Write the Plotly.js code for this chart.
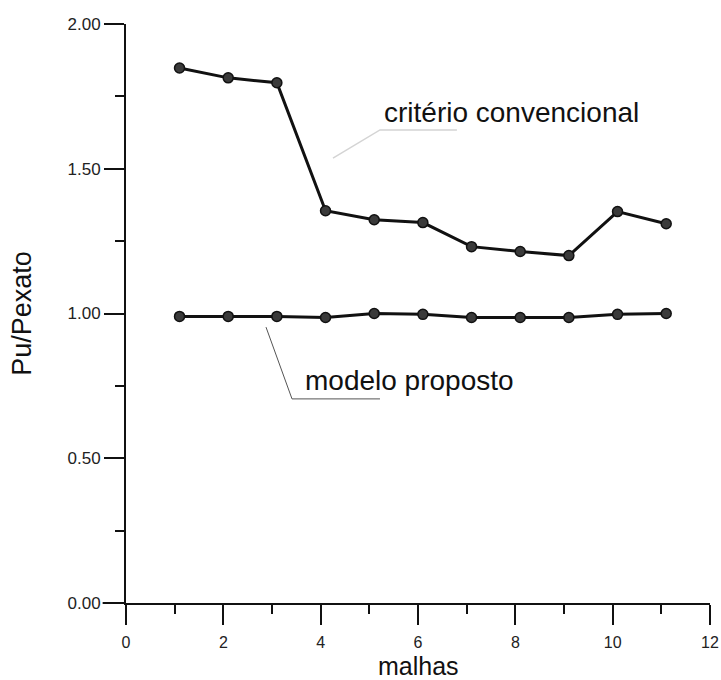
<!DOCTYPE html>
<html>
<head>
<meta charset="utf-8">
<script src="https://cdn.plot.ly/plotly-3.0.1.min.js"></script>
<style>html,body{margin:0;padding:0;background:#fff;}#chart{width:721px;height:680px;}</style>
</head>
<body>
<div id="chart"></div>
<script>
var malhas = [1.1, 2.1, 3.1, 4.1, 5.1, 6.1, 7.1, 8.1, 9.1, 10.1, 11.1];
var criterioConvencional = [1.848, 1.814, 1.797, 1.355, 1.324, 1.314, 1.231, 1.214, 1.200, 1.352, 1.310];
var modeloProposto = [0.990, 0.990, 0.990, 0.986, 1.000, 0.997, 0.986, 0.986, 0.986, 0.997, 1.000];
var labelCriterio = "critério convencional";
var labelModelo = "modelo proposto";
var xTitle = "malhas";
var yTitle = "Pu/Pexato";

var fontFam = "Arial, 'Liberation Sans', sans-serif";
var markerStyle = {symbol: 'circle', size: 10, color: '#3a3a3a', line: {color: '#111', width: 1.5}};

var traces = [
  {x: malhas, y: criterioConvencional, mode: 'lines+markers', type: 'scatter',
   line: {color: '#111', width: 3}, marker: markerStyle, name: labelCriterio},
  {x: malhas, y: modeloProposto, mode: 'lines+markers', type: 'scatter',
   line: {color: '#111', width: 3}, marker: markerStyle, name: labelModelo}
];

var layout = {
  width: 721, height: 680,
  margin: {l: 126, r: 11, t: 24, b: 77},
  paper_bgcolor: '#fff', plot_bgcolor: '#fff',
  showlegend: false,
  font: {family: fontFam, color: '#111'},
  xaxis: {
    range: [0, 12], dtick: 2, tick0: 0,
    showgrid: false, zeroline: false,
    showline: true, linecolor: '#111', linewidth: 2,
    ticks: 'outside', ticklen: 20, tickwidth: 2, tickcolor: '#111',
    minor: {dtick: 1, ticks: 'outside', ticklen: 9, tickwidth: 2, tickcolor: '#111', showgrid: false},
    ticklabelstandoff: 4,
    tickfont: {size: 16, color: '#222', family: fontFam}
  },
  yaxis: {
    range: [0, 2], dtick: 0.5, tick0: 0, tickformat: '.2f',
    showgrid: false, zeroline: false,
    showline: true, linecolor: '#111', linewidth: 2,
    ticks: 'outside', ticklen: 20, tickwidth: 2, tickcolor: '#111',
    minor: {dtick: 0.25, ticks: 'outside', ticklen: 9, tickwidth: 2, tickcolor: '#111', showgrid: false},
    tickfont: {size: 17, color: '#222', family: fontFam},
    title: {text: yTitle, font: {size: 27, color: '#111', family: fontFam}, standoff: 28}
  },
  annotations: [
    {x: 7.93, y: 1.696, xref: 'x', yref: 'y', text: labelCriterio, showarrow: false,
     font: {size: 28, color: '#111', family: fontFam}},
    {x: 5.835, y: 0.767, xref: 'x', yref: 'y', text: labelModelo, showarrow: false,
     font: {size: 28, color: '#111', family: fontFam}},
    {x: 0.5, y: 0, xref: 'paper', yref: 'paper', text: xTitle, showarrow: false,
     xanchor: 'center', yanchor: 'top', yshift: -47,
     font: {size: 25, color: '#111', family: fontFam}}
  ],
  shapes: [
    {type: 'path', xref: 'x', yref: 'y', path: 'M 2.877 0.953 L 3.411 0.705 L 5.219 0.705',
     line: {color: '#555', width: 1}},
    {type: 'path', xref: 'x', yref: 'y', path: 'M 4.253 1.537 L 5.219 1.634 L 6.80 1.634',
     line: {color: '#d4d4d4', width: 1.5}},
    {type: 'line', xref: 'paper', yref: 'paper', x0: -0.04, x1: 0, y0: 0, y1: 0,
     line: {color: '#111', width: 2}}
  ]
};

Plotly.newPlot('chart', traces, layout, {displayModeBar: false, staticPlot: true});
</script>
</body>
</html>
